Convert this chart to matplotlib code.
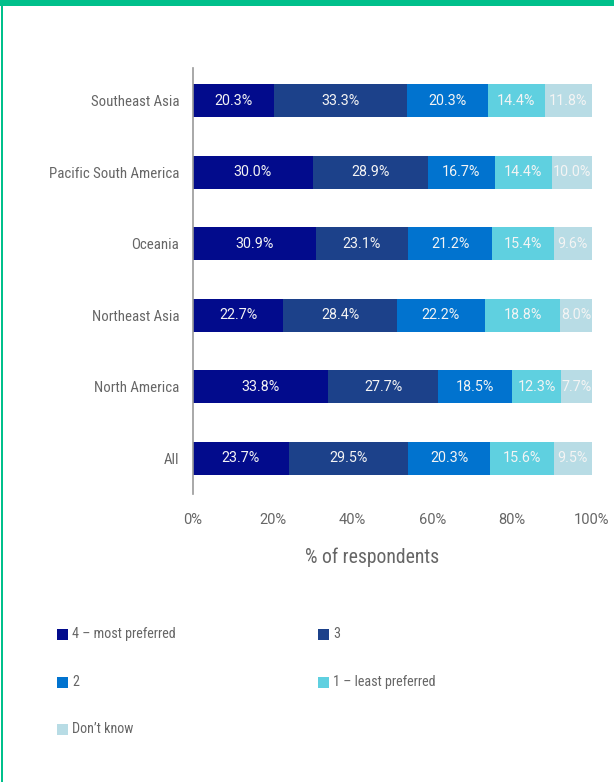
import matplotlib
matplotlib.use("Agg")
import matplotlib.pyplot as plt
from matplotlib.patches import Rectangle
import numpy as np

plt.rcParams['font.family'] = ['Roboto Condensed', 'DejaVu Sans']
NUM_FONT = ['Roboto', 'DejaVu Sans']

regions = ["All", "North America", "Northeast Asia", "Oceania",
           "Pacific South America", "Southeast Asia"]
series_names = ["4 \u2013 most preferred", "3", "2", "1 \u2013 least preferred", "Don\u2019t know"]
colors = ["#020B8C", "#1C418A", "#0173CF", "#5FD0E0", "#B8DCE5"]

pref4 = [23.7, 33.8, 22.7, 30.9, 30.0, 20.3]
pref3 = [29.5, 27.7, 28.4, 23.1, 28.9, 33.3]
pref2 = [20.3, 18.5, 22.2, 21.2, 16.7, 20.3]
pref1 = [15.6, 12.3, 18.8, 15.4, 14.4, 14.4]
dont_know = [9.5, 7.7, 8.0, 9.6, 10.0, 11.8]
xticks = [0, 20, 40, 60, 80, 100]

W, H = 614, 782
fig = plt.figure(figsize=(W / 100, H / 100), dpi=100)

# green frame
fig.add_artist(Rectangle((0, 1 - 6 / H), 1, 6 / H, transform=fig.transFigure,
                         color="#00C08B", lw=0))
fig.add_artist(Rectangle((1 / W, 0), 2 / W, 1, transform=fig.transFigure,
                         color="#00C08B", lw=0))

ax = fig.add_axes([193 / W, 1 - 494 / H, (592 - 193) / W, (494 - 68) / H])

data = np.array([pref4, pref3, pref2, pref1, dont_know])
totals = data.sum(axis=0)
widths = data / totals * 100
ypos = np.arange(len(regions))
left = np.zeros(len(regions))
for i in range(len(series_names)):
    ax.barh(ypos, widths[i], left=left, height=0.46, color=colors[i], lw=0)
    for j in range(len(regions)):
        ax.text(left[j] + widths[i][j] / 2, ypos[j], f"{data[i][j]:.1f}%",
                ha="center", va="center", color="#F4F4F4", fontsize=10.3,
                family=NUM_FONT)
    left += widths[i]

ax.set_xlim(0, 100)
ax.set_ylim(-0.5, 5.46)
ax.set_yticks(ypos)
ax.set_yticklabels(regions, fontsize=10.75, color="#666666")
ax.set_xticks(xticks)
ax.set_xticklabels([f"{t}%" for t in xticks], fontsize=10.5, color="#666666",
                   family=NUM_FONT)
ax.tick_params(axis="both", length=0)
ax.tick_params(axis="x", pad=13.5)
ax.tick_params(axis="y", pad=10)
for s in ["top", "right", "bottom"]:
    ax.spines[s].set_visible(False)
ax.spines["left"].set_color("#999999")
ax.spines["left"].set_linewidth(1.2)
ax.set_xlabel("% of respondents", fontsize=14.2, color="#666666")
ax.xaxis.set_label_coords((372 - 193) / 399, -(557 - 494) / (494 - 68))
ax.xaxis.label.set_va("center")

# legend, row-major in two columns
col_x = [57, 318]
row_y = [634, 682, 729]
for k, (name, c) in enumerate(zip(series_names, colors)):
    r, cidx = divmod(k, 2)
    x0, y0 = col_x[cidx], row_y[r]
    fig.add_artist(Rectangle((x0 / W, 1 - (y0 + 5.5) / H), 11 / W, 11 / H,
                             transform=fig.transFigure, color=c, lw=0))
    fig.text((x0 + 15) / W, 1 - y0 / H, name, ha="left", va="center",
             fontsize=10.2, color="#666666")

fig.savefig("out.png", dpi=100)
